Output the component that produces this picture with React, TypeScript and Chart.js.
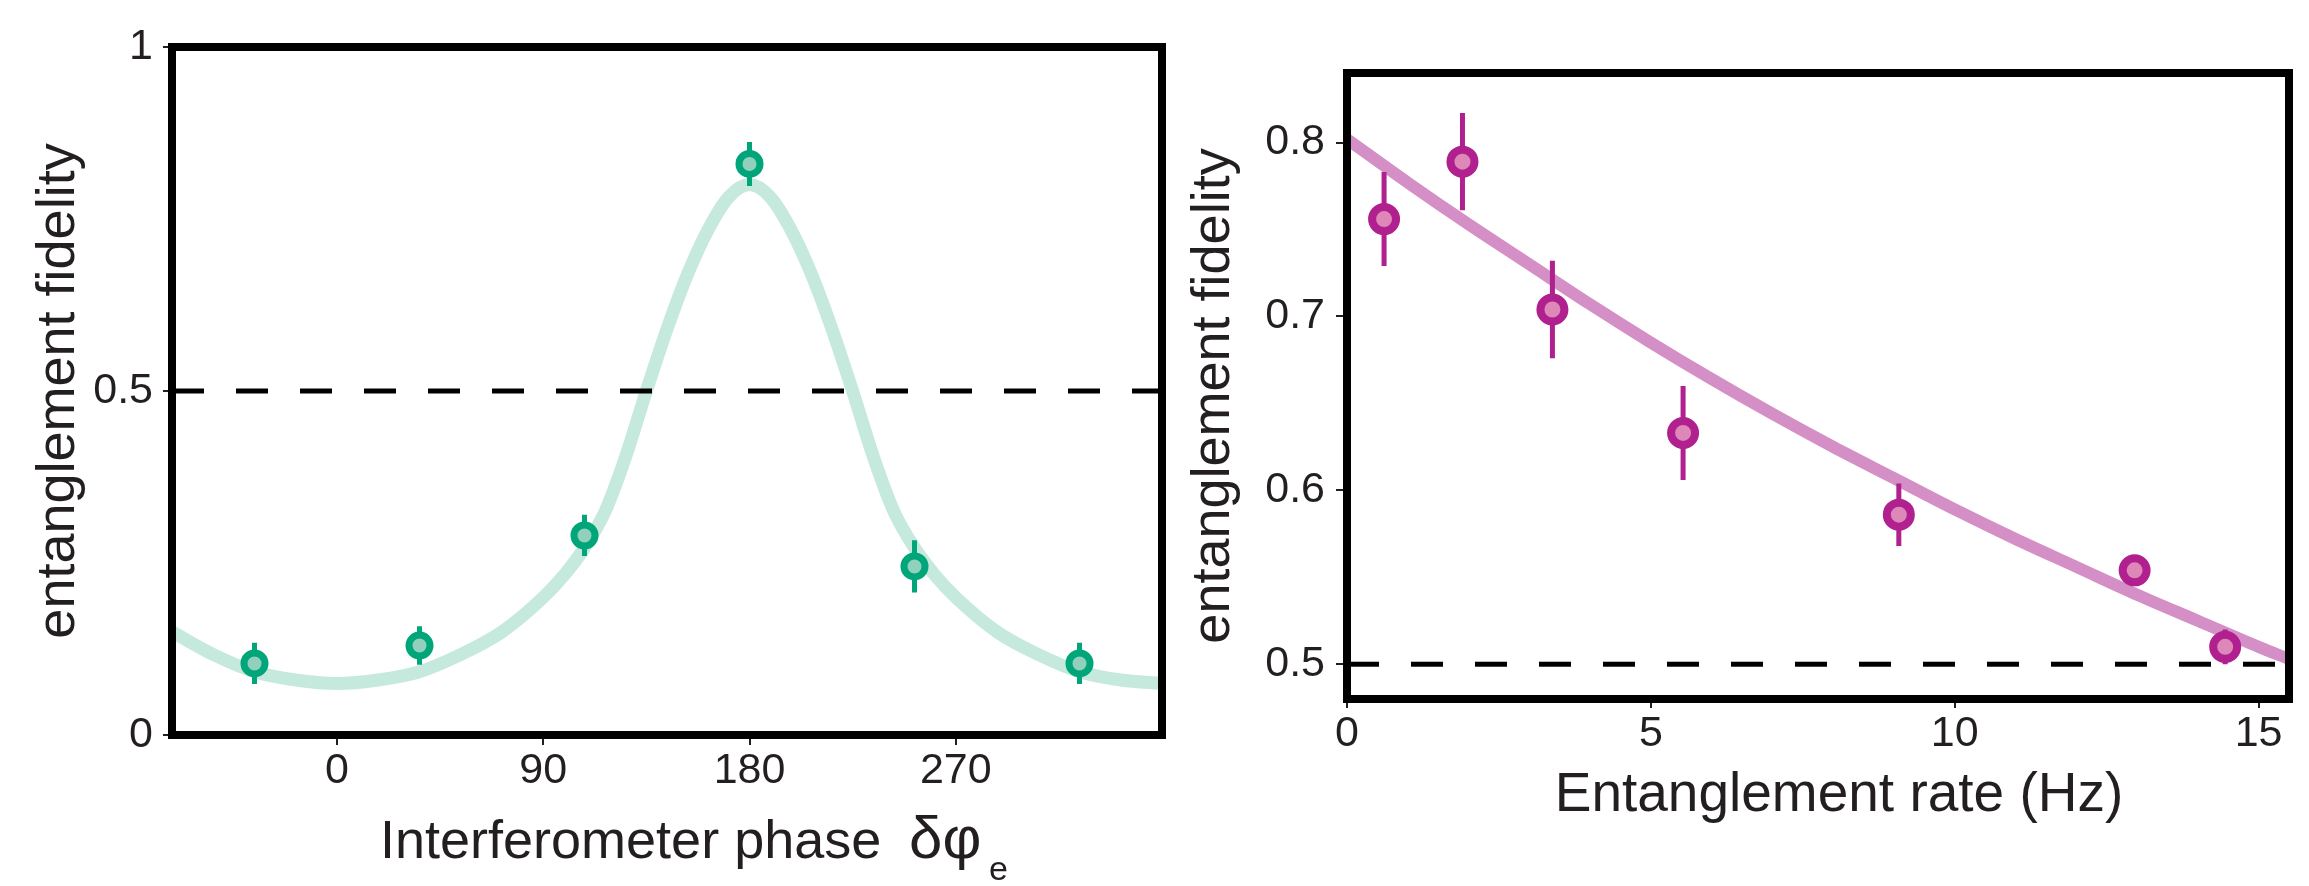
import React, { useEffect, useRef } from "react";
import { Chart, registerables } from "chart.js";

Chart.register(...registerables);

// ---------- Left panel: fidelity vs interferometer phase ----------
const phaseX = [-36, 36, 108, 180, 252, 324];
const phaseFid = [0.104, 0.13, 0.29, 0.83, 0.245, 0.104];
const phaseErr = [0.03, 0.028, 0.03, 0.032, 0.038, 0.03];
const phaseFitX = [-72, -54, -36, -18, 0, 18, 36, 54, 72, 90, 99, 108, 117, 126, 135, 144, 153, 162, 171, 180, 189, 198, 207, 216, 225, 234, 243, 252, 261, 270, 288, 306, 324, 342, 360];
const phaseFitY = [0.15, 0.117, 0.092, 0.08, 0.075, 0.08, 0.092, 0.117, 0.15, 0.2, 0.232, 0.272, 0.325, 0.405, 0.5, 0.59, 0.67, 0.735, 0.782, 0.8, 0.782, 0.735, 0.67, 0.59, 0.5, 0.405, 0.325, 0.272, 0.232, 0.2, 0.15, 0.117, 0.092, 0.08, 0.075];
const phaseTicks = [0, 90, 180, 270];
const leftFidTicks = [0, 0.5, 1];

// ---------- Right panel: fidelity vs entanglement rate ----------
const rateX = [0.61, 1.9, 3.38, 5.53, 9.08, 12.96, 14.45];
const rateFid = [0.756, 0.789, 0.704, 0.633, 0.586, 0.554, 0.51];
const rateErr = [0.027, 0.028, 0.028, 0.027, 0.018, 0.008, 0.01];
const rateFitX = [0, 1, 2, 3, 4, 5, 6, 7, 8, 9, 10, 11, 12, 13, 14, 15, 15.5];
const rateFitY = [0.802, 0.777, 0.753, 0.73, 0.707, 0.685, 0.664, 0.644, 0.625, 0.607, 0.589, 0.572, 0.556, 0.54, 0.525, 0.51, 0.503];
const rateTicks = [0, 5, 10, 15];
const rightFidTicks = [0.5, 0.6, 0.7, 0.8];

const threshold = 0.5;

const FONT = "'Liberation Sans', Arial, Helvetica, sans-serif";
const TEXT = "#231f20";

function errPairs(xs: number[], ys: number[], es: number[]) {
  const out: { x: number; y: number | null }[] = [];
  xs.forEach((x, i) => {
    out.push({ x, y: ys[i] - es[i] });
    out.push({ x, y: ys[i] + es[i] });
    out.push({ x, y: null });
  });
  return out;
}

const boxPlugin = {
  id: "box",
  afterDatasetsDraw(chart: any) {
    const { ctx, chartArea: a } = chart;
    ctx.save();
    ctx.strokeStyle = "#000";
    ctx.lineWidth = 8;
    ctx.strokeRect(a.left, a.top, a.right - a.left, a.bottom - a.top);
    ctx.restore();
  },
};

const phaseTitlePlugin = {
  id: "phaseTitle",
  afterDraw(chart: any) {
    const { ctx } = chart;
    ctx.save();
    ctx.fillStyle = TEXT;
    ctx.textBaseline = "alphabetic";
    ctx.textAlign = "left";
    ctx.font = `54px ${FONT}`;
    ctx.fillText("Interferometer phase", 380, 858);
    ctx.font = `60px ${FONT}`;
    ctx.fillText("δφ", 909, 858);
    ctx.font = `34px ${FONT}`;
    ctx.fillText("e", 989, 880);
    ctx.restore();
  },
};

const rateTitlesPlugin = {
  id: "rateTitles",
  afterDraw(chart: any) {
    const { ctx } = chart;
    ctx.save();
    ctx.fillStyle = TEXT;
    ctx.textAlign = "center";
    ctx.textBaseline = "alphabetic";
    ctx.font = `55px ${FONT}`;
    ctx.fillText("Entanglement rate (Hz)", 659, 811);
    ctx.translate(34, 396);
    ctx.rotate(-Math.PI / 2);
    ctx.font = `54px ${FONT}`;
    ctx.textBaseline = "middle";
    ctx.fillText("entanglement fidelity", 0, 0);
    ctx.restore();
  },
};

function axisCommon(tickLength: number, padding: number) {
  return {
    type: "linear" as const,
    grid: { display: true, drawOnChartArea: false, drawTicks: true, tickLength, color: TEXT, lineWidth: 2 },
    border: { display: false },
    ticks: { color: TEXT, font: { family: FONT, size: 43 }, padding, maxRotation: 0, autoSkip: false },
  };
}

export default function App() {
  const leftRef = useRef<HTMLCanvasElement>(null);
  const rightRef = useRef<HTMLCanvasElement>(null);

  useEffect(() => {
    const left = new Chart(leftRef.current!, {
      type: "line",
      data: {
        datasets: [
          {
            label: "data",
            data: phaseX.map((x, i) => ({ x, y: phaseFid[i] })),
            showLine: false,
            pointRadius: 10.5,
            pointBorderWidth: 7,
            pointBackgroundColor: "#91d0bc",
            pointBorderColor: "#00a67a",
            order: 0,
          },
          {
            label: "err",
            data: errPairs(phaseX, phaseFid, phaseErr),
            borderColor: "#00a67a",
            borderWidth: 5,
            borderCapStyle: "butt",
            pointRadius: 0,
            spanGaps: false,
            order: 1,
          },
          {
            label: "threshold",
            data: [{ x: -72, y: threshold }, { x: 360, y: threshold }],
            borderColor: "#000",
            borderWidth: 5,
            borderDash: [32, 32],
            borderCapStyle: "butt",
            pointRadius: 0,
            order: 2,
          },
          {
            label: "fit",
            data: phaseFitX.map((x, i) => ({ x, y: phaseFitY[i] })),
            borderColor: "#c6e9de",
            borderWidth: 13,
            pointRadius: 0,
            cubicInterpolationMode: "monotone",
            clip: 0,
            order: 3,
          },
        ] as any,
      },
      options: {
        animation: false,
        responsive: false,
        events: [],
        layout: { padding: { left: 0, top: 47, right: 18, bottom: 0 } },
        plugins: { legend: { display: false }, tooltip: { enabled: false } },
        scales: {
          x: {
            ...axisCommon(10, 0),
            min: -72,
            max: 360,
            afterBuildTicks: (s: any) => {
              s.ticks = phaseTicks.map((v) => ({ value: v }));
            },
            afterFit: (s: any) => {
              s.height = 151;
            },
          },
          y: {
            ...axisCommon(9, 10),
            min: 0,
            max: 1,
            afterBuildTicks: (s: any) => {
              s.ticks = leftFidTicks.map((v) => ({ value: v }));
            },
            afterFit: (s: any) => {
              s.width = 172;
            },
            ticks: { ...axisCommon(9, 10).ticks, callback: (v: any) => String(v) },
            title: {
              display: true,
              text: "entanglement fidelity",
              color: TEXT,
              font: { family: FONT, size: 54, lineHeight: 1.2 },
              padding: { top: 27, bottom: 0 },
            },
          },
        } as any,
      },
      plugins: [boxPlugin, phaseTitlePlugin],
    });

    const right = new Chart(rightRef.current!, {
      type: "line",
      data: {
        datasets: [
          {
            label: "data",
            data: rateX.map((x, i) => ({ x, y: rateFid[i] })),
            showLine: false,
            pointRadius: 12,
            pointBorderWidth: 8,
            pointBackgroundColor: "#dd88b9",
            pointBorderColor: "#b0208e",
            order: 0,
          },
          {
            label: "err",
            data: errPairs(rateX, rateFid, rateErr),
            borderColor: "#b0208e",
            borderWidth: 5,
            borderCapStyle: "butt",
            pointRadius: 0,
            spanGaps: false,
            order: 1,
          },
          {
            label: "threshold",
            data: [{ x: 0, y: threshold }, { x: 15.5, y: threshold }],
            borderColor: "#000",
            borderWidth: 5,
            borderDash: [32, 32],
            borderCapStyle: "butt",
            pointRadius: 0,
            order: 2,
          },
          {
            label: "fit",
            data: rateFitX.map((x, i) => ({ x, y: rateFitY[i] })),
            borderColor: "#d48fc6",
            borderWidth: 12,
            pointRadius: 0,
            cubicInterpolationMode: "monotone",
            clip: 0,
            order: 3,
          },
        ] as any,
      },
      options: {
        animation: false,
        responsive: false,
        events: [],
        layout: { padding: { left: 0, top: 73, right: 0, bottom: 0 } },
        plugins: { legend: { display: false }, tooltip: { enabled: false } },
        scales: {
          x: {
            ...axisCommon(9, 0),
            min: 0,
            max: 15.5,
            afterBuildTicks: (s: any) => {
              s.ticks = rateTicks.map((v) => ({ value: v }));
            },
            afterFit: (s: any) => {
              s.height = 187;
            },
          },
          y: {
            ...axisCommon(11, 11),
            min: 0.48,
            max: 0.84,
            afterBuildTicks: (s: any) => {
              s.ticks = rightFidTicks.map((v) => ({ value: v }));
            },
            afterFit: (s: any) => {
              s.width = 167;
            },
            ticks: { ...axisCommon(11, 11).ticks, callback: (v: any) => Number(v).toFixed(1) },
          },
        } as any,
      },
      plugins: [boxPlugin, rateTitlesPlugin],
    });

    return () => {
      left.destroy();
      right.destroy();
    };
  }, []);

  return (
    <div style={{ position: "absolute", left: 0, top: 0, width: 2309, height: 886, background: "#fff", overflow: "hidden" }}>
      <canvas ref={leftRef} width={1180} height={886} style={{ position: "absolute", left: 0, top: 0, width: 1180, height: 886 }} />
      <canvas ref={rightRef} width={1129} height={886} style={{ position: "absolute", left: 1180, top: 0, width: 1129, height: 886 }} />
    </div>
  );
}
